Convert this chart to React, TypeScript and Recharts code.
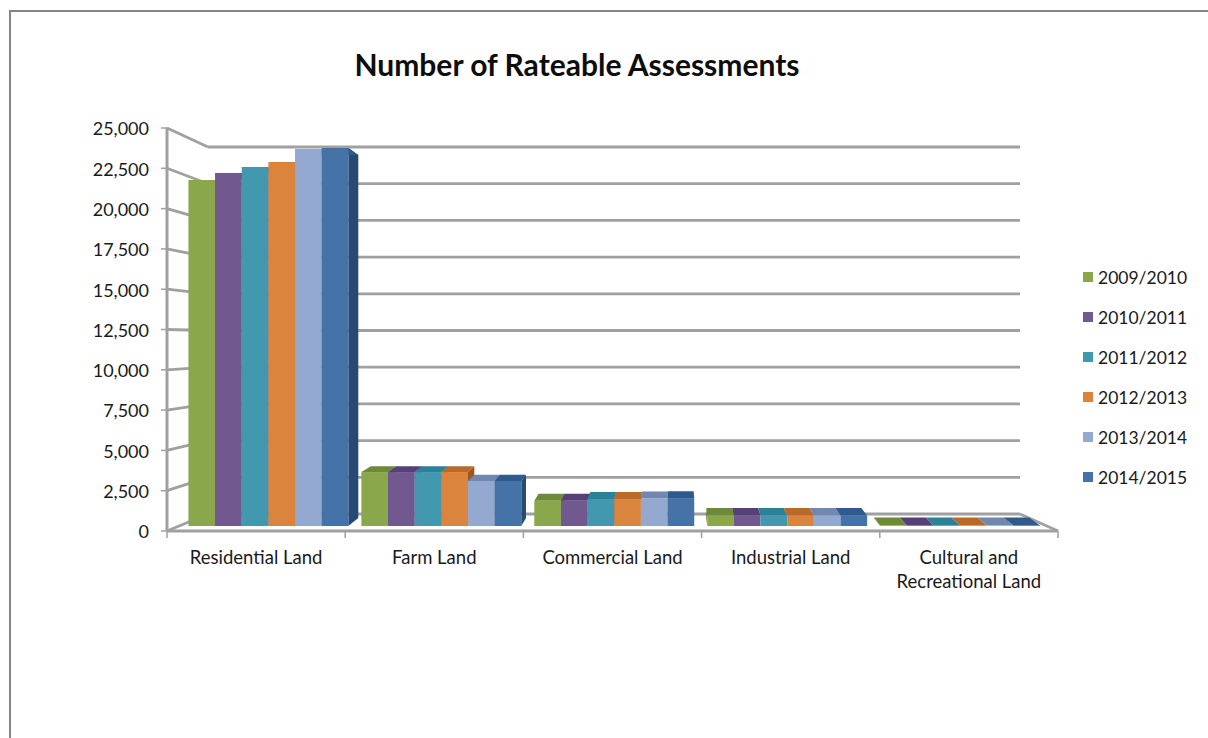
import { BarChart, Bar, XAxis, YAxis, CartesianGrid, Legend, Text } from "recharts";

const categories = ["Residential Land", "Farm Land", "Commercial Land", "Industrial Land", "Cultural and Recreational Land"];
const seriesNames = ["2009/2010", "2010/2011", "2011/2012", "2012/2013", "2013/2014", "2014/2015"];
const seriesColors = ["#8aa84b", "#71588f", "#4198af", "#db843d", "#93a9cf", "#4572a7"];
const topColors = ["#6c8a38", "#573f78", "#2c8098", "#b9692a", "#7187b0", "#2f5a8e"];
const sideColors = ["#566f2c", "#46305f", "#1f6174", "#9c5720", "#5a6d90", "#264a73"];

const values2009 = [21680, 3380, 1585, 645, 30];
const values2010 = [22120, 3380, 1585, 645, 30];
const values2011 = [22490, 3380, 1690, 645, 30];
const values2012 = [22800, 3380, 1690, 645, 30];
const values2013 = [23620, 2820, 1730, 645, 30];
const values2014 = [23680, 2820, 1750, 645, 30];
const seriesValues = [values2009, values2010, values2011, values2012, values2013, values2014];

const yTicks = [0, 2500, 5000, 7500, 10000, 12500, 15000, 17500, 20000, 22500, 25000];

const data = categories.map((name, i) => {
  const row: Record<string, string | number> = { name };
  seriesNames.forEach((s, j) => {
    row[s] = seriesValues[j][i];
  });
  return row;
});

const FONT = "Lato, sans-serif";
const GREY = "#a0a0a0";

// plot area, the axes sit on the front edge of the 3d box
const PLOT_LEFT = 167;
const PLOT_RIGHT = 1058;
const PLOT_TOP = 128;
const PLOT_BOTTOM = 531;

// back wall of the box
const WALL_LEFT = 208;
const WALL_RIGHT = 1020;
const WALL_TOP = 147;
const WALL_BOTTOM = 514;

const wallY = (y: number) => WALL_TOP + ((y - PLOT_TOP) * (WALL_BOTTOM - WALL_TOP)) / (PLOT_BOTTOM - PLOT_TOP);

// the bars stand a bit inside the box, so squeeze them and fake the perspective
const plotX = (x: number) => 630 + (x - 629) * 0.9705;
const plotY = (y: number) => 526 + (y - PLOT_BOTTOM) * (399 / 403);
const depthX = (x: number) => (676 - x) * 0.0304;
const depthY = (y: number) => (324 - y) * 0.0397;

// recharts rounds the bar width down, this puts the lost fraction back
const WIDTH_FIX = 0.45;

const points = (list: number[][]) => list.map((p) => p.join(",")).join(" ");

const Bar3D = (props: any) => {
  const { x, y, width, height, seriesIndex } = props;
  const left = plotX(x) + seriesIndex * WIDTH_FIX;
  const right = plotX(x + width) + (seriesIndex + 1) * WIDTH_FIX;
  const top = plotY(y);
  const bottom = plotY(y + height);
  const backTop = top + depthY(top);
  const backBottom = bottom + depthY(bottom);
  const dl = depthX(left);
  const dr = depthX(right);
  return (
    <g>
      {dr > 0 && (
        <polygon
          points={points([[right, top], [right + dr, backTop], [right + dr, backBottom], [right, bottom]])}
          fill={sideColors[seriesIndex]}
        />
      )}
      {dl < 0 && seriesIndex === 0 && (
        <polygon
          points={points([[left, top], [left + dl, backTop], [left + dl, backBottom], [left, bottom]])}
          fill={sideColors[seriesIndex]}
        />
      )}
      <polygon
        points={points([[left, top], [right, top], [right + dr, backTop], [left + dl, backTop]])}
        fill={topColors[seriesIndex]}
      />
      <rect x={left} y={top} width={right - left} height={Math.max(bottom - top, 0)} fill={seriesColors[seriesIndex]} />
    </g>
  );
};

const GridLine = (props: any) => {
  const y = props.y1;
  const back = wallY(y);
  return (
    <g stroke={GREY} strokeWidth={2.8} fill="none" key={props.key}>
      <line x1={PLOT_LEFT} y1={y} x2={WALL_LEFT} y2={back} />
      <line x1={WALL_LEFT} y1={back} x2={WALL_RIGHT} y2={back} />
      {y === PLOT_BOTTOM && <line x1={WALL_RIGHT} y1={back} x2={PLOT_RIGHT} y2={y} />}
    </g>
  );
};

// ticks go between the categories, so they are drawn with the label
const BAND = (PLOT_RIGHT - PLOT_LEFT) / categories.length;

const CategoryTick = (props: any) => {
  const { x, payload, index } = props;
  return (
    <g>
      <line x1={x - BAND / 2} y1={PLOT_BOTTOM} x2={x - BAND / 2} y2={PLOT_BOTTOM + 7} stroke={GREY} strokeWidth={1.5} />
      {index === categories.length - 1 && (
        <line x1={x + BAND / 2} y1={PLOT_BOTTOM} x2={x + BAND / 2} y2={PLOT_BOTTOM + 7} stroke={GREY} strokeWidth={1.5} />
      )}
      <Text x={x} y={PLOT_BOTTOM + 20} width={145} textAnchor="middle" verticalAnchor="start" lineHeight={24} fontSize={18.5} fontFamily={FONT} fill="#1a1a1a">
        {payload.value}
      </Text>
    </g>
  );
};

const LegendBox = () => (
  <div style={{ fontFamily: FONT, fontSize: 17.5, color: "#1a1a1a" }}>
    {seriesNames.map((s, i) => (
      <div key={s} style={{ height: 40, display: "flex", alignItems: "center" }}>
        <span style={{ width: 10, height: 10, background: seriesColors[i], marginRight: 5 }} />
        {s}
      </div>
    ))}
  </div>
);

const App = () => {
  return (
    <div style={{ position: "absolute", left: 0, top: 0, width: 1208, height: 738, background: "#fff", overflow: "hidden" }}>
      <div style={{ position: "absolute", left: 9, top: 10, width: 1300, height: 800, borderLeft: "2px solid #858585", borderTop: "2px solid #858585" }} />
      <div style={{ position: "absolute", left: 277, top: 46, width: 600, textAlign: "center", fontFamily: FONT, fontWeight: 700, fontSize: 30, color: "#0d0d0d" }}>
        Number of Rateable Assessments
      </div>
      <BarChart
        width={1208}
        height={738}
        data={data}
        margin={{ top: PLOT_TOP, right: 1208 - PLOT_RIGHT, bottom: 157, left: 0 }}
        barCategoryGap={7}
        barGap={0}
        style={{ position: "absolute", left: 0, top: 0 }}
      >
        <CartesianGrid horizontal={GridLine as any} vertical={false} />
        <XAxis
          dataKey="name"
          height={50}
          interval={0}
          tick={<CategoryTick />}
          tickLine={false}
          axisLine={{ stroke: GREY, strokeWidth: 3 }}
        />
        <YAxis
          width={PLOT_LEFT}
          domain={[0, 25000]}
          ticks={yTicks}
          interval={0}
          tickFormatter={(v: number) => v.toLocaleString("en-US")}
          tick={{ fontSize: 18, fontFamily: FONT, fill: "#1a1a1a", dy: 1 }}
          tickSize={6}
          tickMargin={12}
          axisLine={{ stroke: GREY, strokeWidth: 3 }}
          tickLine={{ stroke: GREY, strokeWidth: 1.5 }}
        />
        <Legend
          layout="vertical"
          align="center"
          verticalAlign="middle"
          content={<LegendBox />}
          wrapperStyle={{ left: 1083, top: 257, width: 120 }}
        />
        {seriesNames.map((s, i) => (
          <Bar
            key={s}
            dataKey={s}
            isAnimationActive={false}
            fill={seriesColors[i]}
            shape={(p: any) => <Bar3D {...p} seriesIndex={i} />}
          />
        ))}
      </BarChart>
    </div>
  );
};

export default App;
